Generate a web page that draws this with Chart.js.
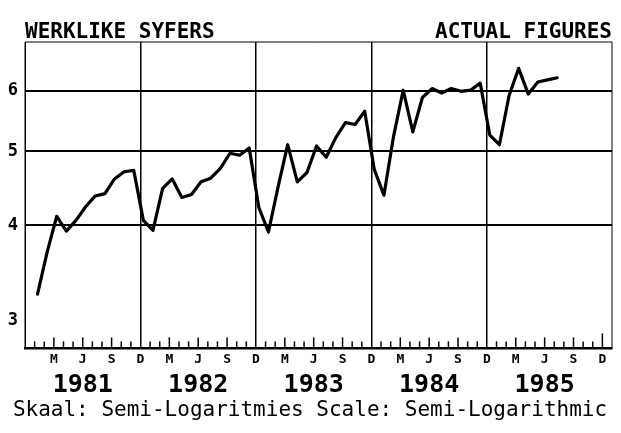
<!DOCTYPE html>
<html>
<head>
<meta charset="utf-8">
<script src="https://cdn.jsdelivr.net/npm/chart.js@4/dist/chart.umd.min.js"></script>
<style>
  html, body { margin: 0; padding: 0; background: #fff; }
  #wrap { width: 621px; height: 433px; position: relative; }
</style>
</head>
<body>
<div id="wrap"><canvas id="c" width="621" height="433"></canvas></div>
<script>
// ---- data ----
const titleLeft = "WERKLIKE SYFERS";
const titleRight = "ACTUAL FIGURES";
const footerText = "Skaal: Semi-Logaritmies Scale: Semi-Logarithmic";
const years = ["1981", "1982", "1983", "1984", "1985"];
const monthLabels = ["M", "J", "S", "D"];
const yTickValues = [3, 4, 5, 6];
// monthly values, Jan 1981 .. Jul 1985
const values = [
  3.25, 3.69, 4.11, 3.93, 4.06, 4.23, 4.37, 4.40, 4.60, 4.70, 4.72, 4.06,
  3.94, 4.47, 4.60, 4.35, 4.39, 4.56, 4.61, 4.75, 4.97, 4.94, 5.05, 4.22,
  3.92, 4.49, 5.10, 4.56, 4.69, 5.08, 4.91, 5.21, 5.45, 5.42, 5.64, 4.73,
  4.38, 5.23, 6.01, 5.30, 5.88, 6.04, 5.96, 6.04, 5.99, 6.01, 6.14, 5.25,
  5.10, 5.91, 6.42, 5.94, 6.16, 6.20, 6.24
];

const MONTH_SHIFT = 0.3;           // points plotted slightly after month mark
const TOTAL_MONTHS = years.length * 12;
const points = values.map((v, i) => ({ x: i + 1 + MONTH_SHIFT, y: v }));

const monoBold = (size) => ({ family: "'DejaVu Sans Mono', monospace", size: size, weight: 'bold' });

const decorPlugin = {
  id: 'decor',
  afterDraw(chart) {
    const ctx = chart.ctx;
    const a = chart.chartArea;
    const xs = chart.scales.x;
    ctx.save();
    // frame
    ctx.strokeStyle = '#000';
    ctx.lineWidth = 1;
    ctx.beginPath();
    ctx.moveTo(a.left, a.bottom); ctx.lineTo(a.left, a.top);
    ctx.lineTo(a.right, a.top); ctx.lineTo(a.right, a.bottom);
    ctx.stroke();
    // bottom month tick marks pointing up
    ctx.lineWidth = 1.5;
    for (let m = 1; m <= TOTAL_MONTHS; m++) {
      const px = xs.getPixelForValue(m);
      let h = (m % 3 === 0) ? 11 : 7;
      if (m % 12 === 0) h = (m === TOTAL_MONTHS) ? 15 : 0;
      if (!h) continue;
      ctx.beginPath();
      ctx.moveTo(px, a.bottom);
      ctx.lineTo(px, a.bottom - h);
      ctx.stroke();
    }
    // header
    ctx.fillStyle = '#000';
    ctx.font = "bold 21px 'DejaVu Sans Mono', monospace";
    ctx.textBaseline = 'alphabetic';
    ctx.textAlign = 'left';
    ctx.fillText(titleLeft, a.left, 38);
    ctx.textAlign = 'right';
    ctx.fillText(titleRight, a.right, 38);
    // footer
    ctx.font = "21px 'DejaVu Sans Mono', monospace";
    ctx.textAlign = 'center';
    ctx.fillText(footerText, 310, 416);
    ctx.restore();
  }
};

new Chart(document.getElementById('c'), {
  type: 'line',
  data: {
    datasets: [{
      data: points,
      borderColor: '#000',
      borderWidth: 3.2,
      pointRadius: 0,
      tension: 0,
      fill: false,
      borderJoinStyle: 'round',
      borderCapStyle: 'round'
    }]
  },
  options: {
    responsive: false,
    animation: false,
    devicePixelRatio: 1,
    layout: { padding: { left: 0, right: 9, top: 42, bottom: 33 } },
    plugins: { legend: { display: false }, tooltip: { enabled: false }, title: { display: false } },
    scales: {
      x: {
        type: 'linear',
        position: 'bottom',
        min: 0,
        max: TOTAL_MONTHS + 1,
        afterBuildTicks(scale) {
          const t = [];
          for (let m = 3; m <= TOTAL_MONTHS; m += 3) t.push({ value: m });
          scale.ticks = t;
        },
        ticks: {
          autoSkip: false,
          maxRotation: 0,
          color: '#000',
          font: monoBold(13),
          padding: 3,
          callback: (v) => monthLabels[(Math.round(v) / 3 - 1) % 4]
        },
        grid: {
          drawTicks: false,
          color: (c) => (c.tick && c.tick.value % 12 === 0 && c.tick.value < TOTAL_MONTHS) ? '#000' : 'rgba(0,0,0,0)',
          lineWidth: 1.5
        },
        border: { display: true, color: '#000', width: 2.5 }
      },
      years: {
        type: 'linear',
        position: 'bottom',
        min: 0,
        max: TOTAL_MONTHS + 1,
        afterBuildTicks(scale) {
          scale.ticks = years.map((y, i) => ({ value: i * 12 + 6 }));
        },
        ticks: {
          autoSkip: false,
          maxRotation: 0,
          color: '#000',
          font: monoBold(25),
          padding: 0,
          callback: (v) => years[Math.round((v - 6) / 12)]
        },
        grid: { display: false, drawTicks: false },
        border: { display: false }
      },
      y: {
        type: 'logarithmic',
        min: 2.76,
        max: 6.95,
        afterBuildTicks(scale) {
          scale.ticks = yTickValues.map(v => ({ value: v }));
        },
        afterFit(scale) { scale.width = 25; },
        ticks: {
          color: '#000',
          font: monoBold(17),
          padding: 7,
          callback: (v) => String(v)
        },
        grid: {
          drawTicks: false,
          color: (c) => (c.tick && c.tick.value === 3) ? 'rgba(0,0,0,0)' : '#000',
          lineWidth: 2
        },
        border: { display: true, color: '#000', width: 1 }
      }
    }
  },
  plugins: [decorPlugin]
});
</script>
</body>
</html>
